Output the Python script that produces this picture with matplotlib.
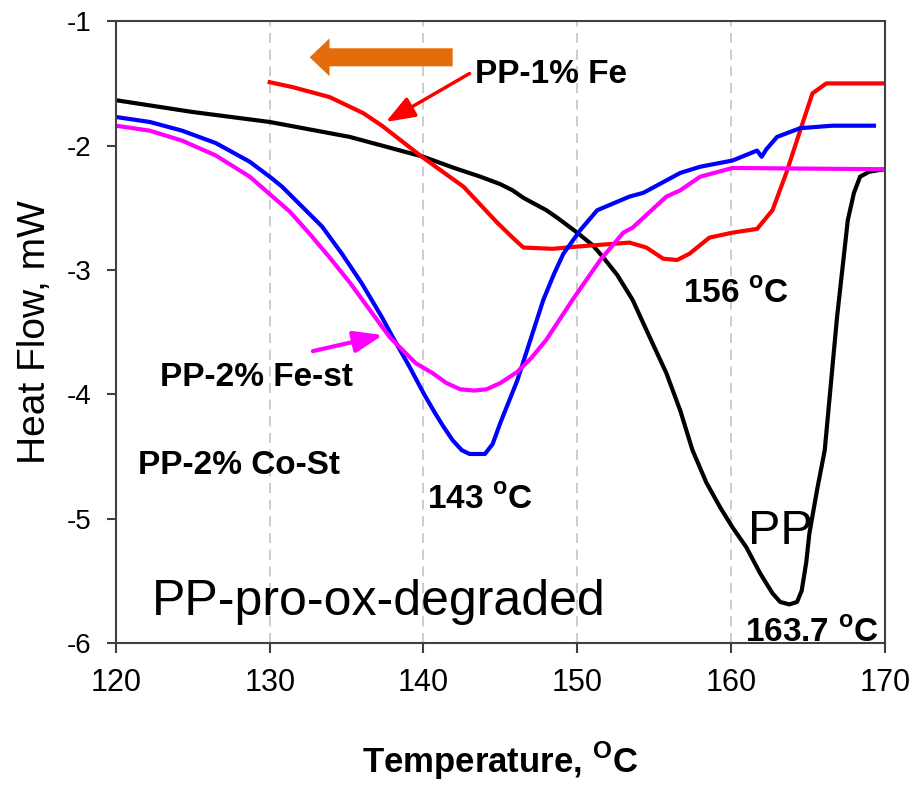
import matplotlib
matplotlib.use("Agg")
import matplotlib.pyplot as plt

plt.rcParams['font.family'] = ['Liberation Sans', 'DejaVu Sans']
plt.rcParams['mathtext.fontset'] = 'custom'
plt.rcParams['mathtext.rm'] = 'Liberation Sans'
plt.rcParams['mathtext.bf'] = 'Liberation Sans:bold'

# PP (black)
pp_t = [120, 125, 130, 135.2, 140, 142, 143.7, 145, 145.8, 146.5, 147.1, 148, 148.7, 150, 151,
        151.7, 152.6, 153.6, 154.9, 155.8, 156.7, 157.5, 158.4, 159.3, 160.1, 161.0, 161.9,
        162.7, 163.2, 163.8, 164.3, 164.6, 164.9, 165.1, 165.6, 166.1, 166.9, 167.6, 168.0,
        168.4, 169.0, 170]
pp_hf = [-1.635, -1.73, -1.81, -1.93, -2.09, -2.18, -2.25, -2.31, -2.36, -2.42, -2.46, -2.52, -2.58,
         -2.70, -2.80, -2.90, -3.04, -3.24, -3.59, -3.83, -4.13, -4.45, -4.71, -4.91, -5.07,
         -5.23, -5.44, -5.60, -5.67, -5.69, -5.67, -5.58, -5.35, -5.12, -4.77, -4.45, -3.38,
         -2.60, -2.38, -2.25, -2.21, -2.19]

# PP-1% Fe (red)
fe_t = [130, 131.5, 133.9, 136.1, 137.3, 139.9, 142.6, 144.8, 145.8, 146.5, 148.4, 150.2,
        153.4, 154.5, 155.6, 156.5, 157.3, 158.6, 160.1, 161.7, 162.7, 163.6, 164.5,
        165.3, 166.2, 170]
fe_hf = [-1.49, -1.53, -1.61, -1.74, -1.84, -2.09, -2.33, -2.62, -2.74, -2.82, -2.83, -2.81,
         -2.78, -2.82, -2.91, -2.92, -2.87, -2.74, -2.70, -2.67, -2.52, -2.22, -1.88,
         -1.58, -1.50, -1.50]

# PP-2% Co-St (blue)
co_t = [120, 122.2, 124.3, 126.5, 128.7, 130.0, 130.8, 132.1, 133.4, 134.7, 136.0, 137.3,
        138.0, 139.1, 140, 140.7, 141.3, 141.9, 142.5, 143.0, 144.0, 144.5, 145.0, 146.1, 147.8,
        148.5, 149.1, 150.2, 151.3, 153.4, 154.3, 156.7, 158.0, 160.1, 161.7, 162.0, 162.3,
        163.0, 164.5, 166.6, 169.3]
co_hf = [-1.77, -1.81, -1.88, -1.98, -2.13, -2.25, -2.33, -2.49, -2.65, -2.87, -3.11, -3.38,
         -3.54, -3.78, -3.99, -4.14, -4.26, -4.37, -4.45, -4.48, -4.48, -4.40, -4.23, -3.89, -3.24,
         -3.03, -2.87, -2.68, -2.52, -2.41, -2.38, -2.22, -2.17, -2.12, -2.04, -2.09, -2.03,
         -1.93, -1.86, -1.84, -1.84]

# PP-2% Fe-st (magenta)
fest_t = [120, 122.2, 124.3, 126.5, 128.7, 130.0, 131.3, 132.6, 133.9, 135.2, 136.5, 137.8,
          139.5, 140.6, 141.5, 142.4, 143.3, 144.1, 145.0, 146.1, 147.0, 148.0, 149.7, 151.5,
          153.0, 153.6, 155.8, 156.7, 158.0, 160.1, 170]
fest_hf = [-1.84, -1.88, -1.96, -2.08, -2.25, -2.39, -2.53, -2.71, -2.90, -3.10, -3.32, -3.54,
           -3.75, -3.83, -3.91, -3.96, -3.97, -3.96, -3.91, -3.82, -3.71, -3.56, -3.24, -2.92,
           -2.70, -2.66, -2.41, -2.36, -2.25, -2.18, -2.19]

x_ticks = [120, 130, 140, 150, 160, 170]
y_ticks = [-1, -2, -3, -4, -5, -6]

fig = plt.figure(figsize=(9.13, 7.87), dpi=100)
ax = fig.add_axes([0.127, 0.183, 0.842, 0.790])

for x in x_ticks[1:-1]:
    ax.axvline(x, color='#c4c4c4', lw=1.2, linestyle=(0, (6, 4)), zorder=0)

ax.plot(pp_t, pp_hf, color='black', lw=3)
ax.plot(fe_t, fe_hf, color='#ff0000', lw=3)
ax.plot(co_t, co_hf, color='#0000ff', lw=3)
ax.plot(fest_t, fest_hf, color='#ff00ff', lw=3)

ax.set_xlim(120, 170)
ax.set_ylim(-6, -1)
ax.set_xticks(x_ticks)
ax.set_yticks(y_ticks)
ax.set_xticklabels([str(v) for v in x_ticks], fontsize=22)
ax.set_yticklabels([str(v) for v in y_ticks], fontsize=20)
ax.tick_params(axis='x', direction='out', length=7, width=1.5, pad=11, colors='#404040',
               labelcolor='black')
ax.tick_params(axis='y', direction='out', length=6.5, width=1.5, pad=11, colors='#404040',
               labelcolor='black')
for s in ax.spines.values():
    s.set_color('#404040')
    s.set_linewidth(1.5)

ax.set_ylabel('Heat Flow, mW', fontsize=28, labelpad=10)
ax.set_xlabel('Temperature, $^{\\mathbf{O}}$C', fontsize=25, fontweight='bold', labelpad=30)

# big orange arrow
ax.annotate('', xy=(132.6, -1.29), xytext=(141.9, -1.29),
            arrowprops=dict(arrowstyle='simple,head_length=1.1,head_width=2.1,tail_width=1.0',
                            mutation_scale=13, color='#E46C0A', lw=0, shrinkA=0, shrinkB=0))

# pointer arrows
ax.annotate('', xy=(137.55, -1.81), xytext=(143.0, -1.42),
            arrowprops=dict(arrowstyle='-|>,head_length=0.8,head_width=0.3', mutation_scale=22,
                            color='#ff0000', lw=2.5, shrinkA=0, shrinkB=0))
ax.annotate('', xy=(137.36, -3.524), xytext=(132.81, -3.653),
            arrowprops=dict(arrowstyle='-|>,head_length=0.8,head_width=0.3', mutation_scale=22,
                            color='#ff00ff', lw=3, shrinkA=0, shrinkB=0))

bold = dict(fontsize=24, fontweight='bold', ha='left', va='baseline')
ax.text(143.34, -1.50, 'PP-1% Fe', **bold)
ax.text(156.87, -3.26, '156 $^{\\mathbf{o}}$C', **bold)
ax.text(122.86, -3.93, 'PP-2% Fe-st', **bold)
ax.text(121.43, -4.64, 'PP-2% Co-St', **bold)
ax.text(140.22, -4.92, '143 $^{\\mathbf{o}}$C', **bold)
ax.text(160.90, -5.99, '163.7 $^{\\mathbf{o}}$C', zorder=5, clip_on=False, **bold)
ax.text(161.09, -5.20, 'PP', fontsize=35, ha='left', va='baseline')
ax.text(122.34, -5.775, 'PP-pro-ox-degraded', fontsize=36, ha='left', va='baseline')

fig.savefig('out.png', dpi=100)
